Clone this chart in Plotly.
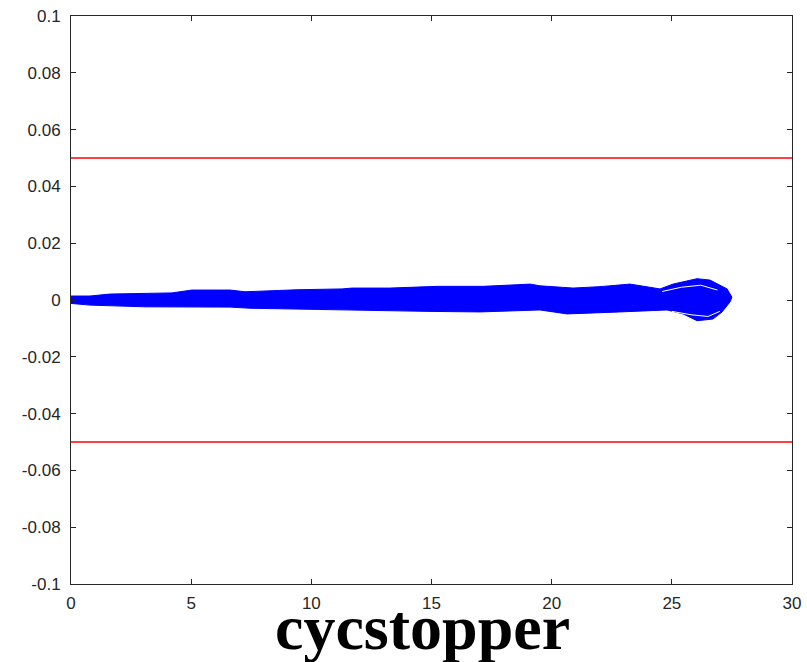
import plotly.graph_objects as go

# Envelope of the dense blue bundle of trajectories
upper_x = [0, 0.79, 1.62, 4.20, 5.03, 6.62, 7.24, 9.40, 11.28, 11.69, 13.27, 15.23,
           17.14, 19.10, 19.51, 20.89, 22.01, 23.26, 24.51, 25.05, 26.05, 26.59, 27.30, 27.50]
upper_y = [0.0014, 0.0014, 0.0021, 0.0025, 0.0035, 0.0035, 0.0029, 0.0036, 0.0039, 0.0042, 0.0042, 0.0048,
           0.0048, 0.0056, 0.0050, 0.0042, 0.0047, 0.0056, 0.0039, 0.0056, 0.0075, 0.0070, 0.0039, 0.0010]
lower_x = [0, 0.79, 3.08, 6.62, 7.45, 11.48, 14.81, 17.02, 19.51, 20.64, 22.84,
           24.80, 25.47, 26.05, 26.71, 27.09, 27.42]
lower_y = [-0.0012, -0.0018, -0.0024, -0.0025, -0.0029, -0.0035, -0.0040, -0.0042, -0.0035, -0.0049, -0.0042,
           -0.0035, -0.0049, -0.0073, -0.0067, -0.0042, -0.0007]

# A few visible gaps (white strands) inside the bundle near its end
gap_a_x = [24.6, 25.4, 26.2, 26.9]
gap_a_y = [0.0030, 0.0045, 0.0052, 0.0035]
gap_b_x = [25.0, 25.8, 26.5, 27.0]
gap_b_y = [-0.0040, -0.0052, -0.0058, -0.0040]

limit_x = [0, 30]
upper_limit = [0.05, 0.05]
lower_limit = [-0.05, -0.05]

x_ticks = [0, 5, 10, 15, 20, 25, 30]
y_ticks = [0.1, 0.08, 0.06, 0.04, 0.02, 0, -0.02, -0.04, -0.06, -0.08, -0.1]
y_tick_text = ["0.1", "0.08", "0.06", "0.04", "0.02", "0", "-0.02", "-0.04", "-0.06", "-0.08", "-0.1"]

band_x = upper_x + lower_x[::-1]
band_y = upper_y + lower_y[::-1]

fig = go.Figure()
fig.add_trace(go.Scatter(x=band_x, y=band_y, mode="lines", fill="toself",
                         fillcolor="#0000ff", line=dict(color="#0000ff", width=1),
                         hoverinfo="skip", showlegend=False))
for gx, gy in [(gap_a_x, gap_a_y), (gap_b_x, gap_b_y)]:
    fig.add_trace(go.Scatter(x=gx, y=gy, mode="lines", line=dict(color="#ffffff", width=1),
                             hoverinfo="skip", showlegend=False))
fig.add_trace(go.Scatter(x=limit_x, y=upper_limit, mode="lines",
                         line=dict(color="#ff0000", width=1.5), showlegend=False))
fig.add_trace(go.Scatter(x=limit_x, y=lower_limit, mode="lines",
                         line=dict(color="#ff0000", width=1.5), showlegend=False))

axis_common = dict(showline=True, linecolor="#262626", linewidth=1, mirror="ticks",
                   ticks="inside", ticklen=5, tickcolor="#262626", showgrid=False,
                   zeroline=False, automargin=False, ticklabeloverflow="allow",
                   tickfont=dict(family="Liberation Sans, Arial", size=17, color="#262626"))

fig.update_xaxes(range=[0, 30], tickvals=x_ticks, ticklabelstandoff=4, **axis_common)
fig.update_yaxes(range=[-0.1, 0.1], tickvals=y_ticks, ticktext=y_tick_text, ticklabelstandoff=6, **axis_common)

fig.add_annotation(text="<b>cycstopper</b>", xref="paper", yref="paper", x=0.487, y=-0.0106,
                   xanchor="center", yanchor="top", showarrow=False,
                   font=dict(family="Liberation Serif, Times New Roman", size=64, color="#000000"))

fig.update_layout(width=807, height=662, margin=dict(l=71, r=15, t=16, b=78, autoexpand=False),
                  plot_bgcolor="white", paper_bgcolor="white")

# remove the browser's default 8px body margin so the figure sits at the page origin
fig.write_html("out.html", config={"displayModeBar": False},
               post_script="document.body.style.margin='0';")
